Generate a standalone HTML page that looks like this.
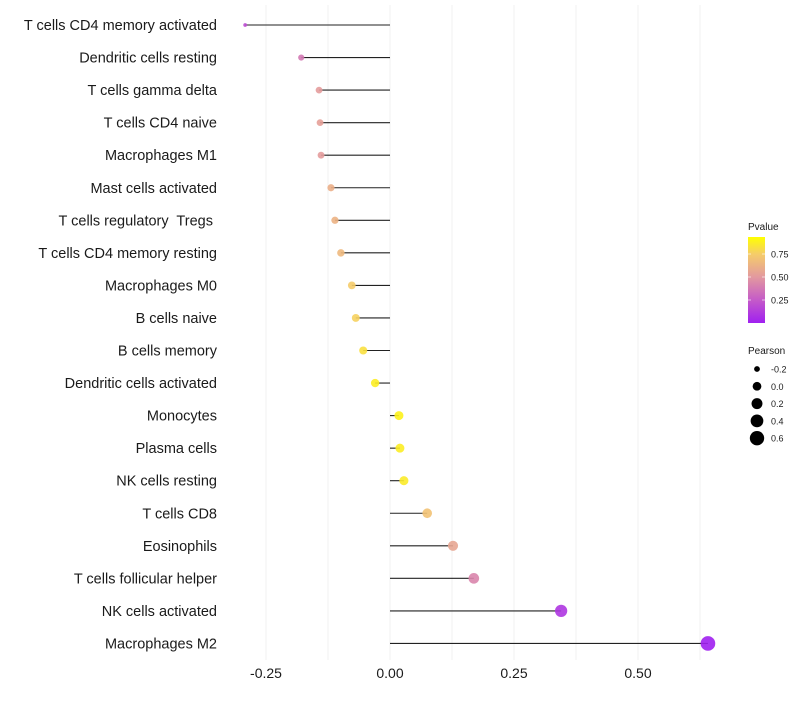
<!DOCTYPE html>
<html><head><meta charset="utf-8"><style>
body{margin:0;background:#fff;font-family:"Liberation Sans",sans-serif;}
svg text{font-family:"Liberation Sans",sans-serif;white-space:pre;}
</style></head><body>
<svg id="chart" width="800" height="700" viewBox="0 0 800 700">
<defs><linearGradient id="pg" x1="0" y1="1" x2="0" y2="0">
<stop offset="0" stop-color="#A020F0"/><stop offset="0.27" stop-color="#C55BC8"/><stop offset="0.54" stop-color="#E39A9E"/><stop offset="0.8" stop-color="#F5CC6A"/><stop offset="1" stop-color="#FFFF00"/></linearGradient></defs>
<g id="grid"></g>
<g id="marks"></g>
<g id="ylabels"></g>
<g id="xlabels"></g>
<g>
<text x="748" y="230" font-size="10" fill="#1a1a1a">Pvalue</text>
<rect x="748" y="237" width="17" height="86" fill="url(#pg)"/>
<g id="cbticks"></g>
</g>
<g id="sizeleg">
<text x="748" y="354" font-size="10" fill="#1a1a1a">Pearson</text>
</g>
</svg>
<script>
const categories=["T cells CD4 memory activated","Dendritic cells resting","T cells gamma delta","T cells CD4 naive","Macrophages M1","Mast cells activated","T cells regulatory  Tregs ","T cells CD4 memory resting","Macrophages M0","B cells naive","B cells memory","Dendritic cells activated","Monocytes","Plasma cells","NK cells resting","T cells CD8","Eosinophils","T cells follicular helper","NK cells activated","Macrophages M2"];
const pearson=[-0.292,-0.179,-0.143,-0.141,-0.139,-0.119,-0.111,-0.099,-0.077,-0.069,-0.054,-0.030,0.018,0.020,0.028,0.075,0.127,0.169,0.345,0.641];
const pvalue=[0.2,0.4,0.55,0.57,0.55,0.65,0.67,0.7,0.8,0.82,0.88,0.93,0.95,0.93,0.92,0.75,0.6,0.45,0.1,0.0];
const xTicks=[-0.25,0,0.25,0.5];
const xTickLabels=["-0.25","0.00","0.25","0.50"];
const cbTicks=[0.25,0.5,0.75];
const cbTickLabels=["0.25","0.50","0.75"];
const sizeBreaks=[-0.2,0,0.2,0.4,0.6];
const sizeLabels=["-0.2","0.0","0.2","0.4","0.6"];

const NS="http://www.w3.org/2000/svg";
const x=v=>390+v*496;
const y=i=>25+i*32.55;
const pmin=Math.min(...pearson),pmax=Math.max(...pearson);
const r=v=>Math.sqrt(3.5+Math.max(0,(v-pmin)/(pmax-pmin))*50);
const stops=[[0,[160,32,240]],[0.27,[197,91,200]],[0.54,[227,154,158]],[0.8,[245,204,106]],[1,[255,255,0]]];
function col(p){p=Math.max(0,Math.min(1,p));for(let k=1;k<stops.length;k++){if(p<=stops[k][0]){const a=stops[k-1],b=stops[k],t=(p-a[0])/(b[0]-a[0]);return "rgb("+a[1].map((c,j)=>Math.round(c+(b[1][j]-c)*t)).join(",")+")";}}}
function mk(tag,attrs,parent){const e=document.createElementNS(NS,tag);for(const k in attrs)e.setAttribute(k,attrs[k]);parent.appendChild(e);return e;}
const grid=document.getElementById('grid');
for(let g=-0.25;g<=0.625;g+=0.125){
 const l=mk('line',{x1:x(g),x2:x(g),y1:5,y2:660,stroke:'#f0f0f0','stroke-width':1},grid);
 
 
}
const marks=document.getElementById('marks'),yl=document.getElementById('ylabels');
categories.forEach((c,i)=>{
 const s=mk('line',{x1:x(0),x2:x(pearson[i]),y1:y(i),y2:y(i),stroke:'#222','stroke-width':1.1},marks);
 
 
 const d=mk('circle',{cx:x(pearson[i]),cy:y(i),r:r(pearson[i]),fill:col(pvalue[i]),'fill-opacity':0.9},marks);
 
 
 const t=mk('text',{x:217,y:y(i)+5,'text-anchor':'end','font-size':14.5,fill:'#1a1a1a'},yl);
 t.textContent=c;
 
 
});
const xl=document.getElementById('xlabels');
xTicks.forEach((v,i)=>{
 const t=mk('text',{x:x(v),y:678,'text-anchor':'middle','font-size':14,fill:'#1a1a1a'},xl);
 t.textContent=xTickLabels[i];
 
 
});
const cb=document.getElementById('cbticks');
cbTicks.forEach((v,i)=>{
 const yy=323-v*92;
 mk('line',{x1:748,x2:751,y1:yy,y2:yy,stroke:'#fff','stroke-opacity':0.6},cb);
 mk('line',{x1:762,x2:765,y1:yy,y2:yy,stroke:'#fff','stroke-opacity':0.6},cb);
 const t=mk('text',{x:771,y:yy+3.5,'font-size':9,fill:'#1a1a1a'},cb);
 t.textContent=cbTickLabels[i];
 
 
});
const sl=document.getElementById('sizeleg');
sizeBreaks.forEach((v,i)=>{
 const yy=369+i*17.3;
 const c=mk('circle',{cx:757,cy:yy,r:r(v),fill:'#000'},sl);
 
 
 const t=mk('text',{x:771,y:yy+3.5,'font-size':9,fill:'#1a1a1a'},sl);
 t.textContent=sizeLabels[i];
 
 
});
</script>
</body></html>
